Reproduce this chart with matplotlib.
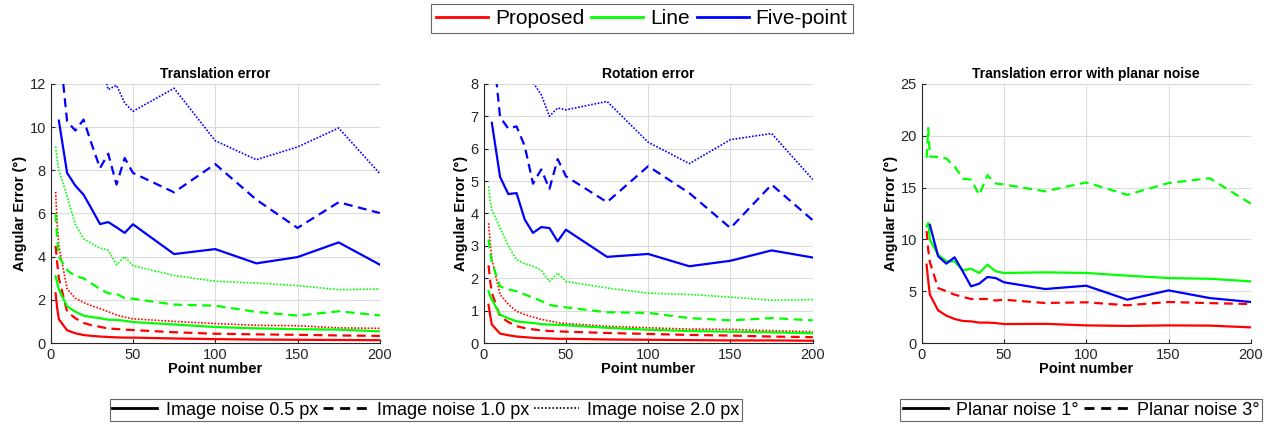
import matplotlib
matplotlib.use("Agg")
import matplotlib.pyplot as plt
from matplotlib.lines import Line2D

plt.rcParams['font.family'] = ['Liberation Sans', 'DejaVu Sans']

# point numbers
x_all = [3, 4, 5, 10, 15, 20, 25, 30, 35, 40, 45, 50, 75, 100, 125, 150, 175, 200]
x_five = [5, 10, 15, 20, 25, 30, 35, 40, 45, 50, 75, 100, 125, 150, 175, 200]

# Translation error (image noise 0.5 / 1.0 / 2.0 px)
t_prop_05 = [2.3, 1.6, 1.1, 0.59, 0.45, 0.37, 0.33, 0.3, 0.28, 0.26, 0.25, 0.25, 0.21, 0.18, 0.16, 0.15, 0.14, 0.13]
t_prop_10 = [4.5, 3.7, 3.0, 1.45, 1.15, 0.93, 0.82, 0.75, 0.67, 0.65, 0.62, 0.6, 0.5, 0.43, 0.4, 0.38, 0.35, 0.33]
t_prop_20 = [7.0, 5.5, 4.5, 2.5, 2.08, 1.88, 1.72, 1.6, 1.45, 1.3, 1.2, 1.12, 1.0, 0.9, 0.82, 0.8, 0.7, 0.68]
t_line_05 = [3.09, 2.8, 2.47, 1.7, 1.45, 1.27, 1.2, 1.15, 1.08, 1.07, 1.03, 0.97, 0.86, 0.74, 0.68, 0.64, 0.62, 0.54]
t_line_10 = [6.0, 4.8, 4.0, 3.37, 3.1, 3.0, 2.75, 2.5, 2.3, 2.28, 2.08, 2.05, 1.78, 1.73, 1.44, 1.27, 1.47, 1.28]
t_line_20 = [9.1, 8.5, 8.0, 6.8, 5.5, 4.83, 4.6, 4.4, 4.3, 3.63, 4.0, 3.58, 3.13, 2.86, 2.78, 2.66, 2.47, 2.5]
t_five_05 = [10.3, 7.88, 7.29, 6.87, 6.2, 5.51, 5.6, 5.36, 5.1, 5.5, 4.12, 4.35, 3.69, 3.98, 4.66, 3.63]
t_five_10 = [14.0, 10.27, 9.84, 10.35, 9.2, 8.1, 8.77, 7.34, 8.57, 7.88, 6.98, 8.29, 6.64, 5.33, 6.52, 6.02]
t_five_20 = [25.0, 18.0, 16.0, 15.0, 14.0, 13.1, 11.74, 11.94, 11.12, 10.73, 11.8, 9.37, 8.49, 9.08, 9.96, 7.85]

# Rotation error
r_prop_05 = [1.18, 0.85, 0.57, 0.29, 0.24, 0.2, 0.18, 0.16, 0.15, 0.14, 0.13, 0.13, 0.11, 0.1, 0.09, 0.08, 0.08, 0.07]
r_prop_10 = [2.4, 1.9, 1.55, 0.82, 0.65, 0.52, 0.46, 0.42, 0.39, 0.37, 0.36, 0.35, 0.31, 0.28, 0.25, 0.23, 0.2, 0.18]
r_prop_20 = [3.7, 3.1, 2.6, 1.5, 1.2, 0.98, 0.88, 0.8, 0.73, 0.68, 0.63, 0.6, 0.52, 0.47, 0.43, 0.42, 0.38, 0.35]
r_line_05 = [1.6, 1.45, 1.34, 0.88, 0.76, 0.67, 0.64, 0.62, 0.58, 0.57, 0.56, 0.55, 0.47, 0.41, 0.37, 0.35, 0.33, 0.3]
r_line_10 = [3.2, 2.8, 2.5, 1.75, 1.65, 1.6, 1.5, 1.4, 1.3, 1.18, 1.13, 1.1, 0.95, 0.93, 0.77, 0.7, 0.77, 0.7]
r_line_20 = [4.84, 4.4, 4.12, 3.55, 3.0, 2.57, 2.45, 2.37, 2.25, 1.9, 2.16, 1.9, 1.7, 1.54, 1.5, 1.42, 1.32, 1.34]
r_five_05 = [6.8, 5.13, 4.6, 4.63, 3.81, 3.4, 3.58, 3.55, 3.14, 3.5, 2.66, 2.75, 2.37, 2.54, 2.86, 2.64]
r_five_10 = [9.5, 6.98, 6.62, 6.69, 6.08, 4.92, 5.36, 4.76, 5.68, 5.15, 4.35, 5.46, 4.63, 3.55, 4.89, 3.79]
r_five_20 = [14.0, 11.0, 9.8, 9.0, 8.5, 8.05, 7.67, 7.0, 7.26, 7.2, 7.46, 6.2, 5.54, 6.28, 6.47, 5.05]

# Translation error with planar noise (1 / 3 deg)
p_prop_1 = [7.56, 6.0, 4.67, 3.15, 2.64, 2.32, 2.13, 2.09, 1.97, 1.97, 1.93, 1.83, 1.85, 1.7, 1.65, 1.7, 1.68, 1.51]
p_prop_3 = [10.8, 9.0, 7.8, 5.3, 5.0, 4.67, 4.45, 4.25, 4.25, 4.25, 4.1, 4.18, 3.86, 3.93, 3.64, 3.96, 3.85, 3.76]
p_line_1 = [11.26, 11.6, 9.97, 8.53, 7.88, 7.88, 7.01, 7.17, 6.76, 7.56, 6.92, 6.76, 6.82, 6.76, 6.5, 6.27, 6.2, 5.95]
p_line_3 = [17.86, 20.75, 18.0, 17.95, 17.8, 17.05, 15.86, 15.77, 14.3, 16.2, 15.4, 15.3, 14.64, 15.5, 14.3, 15.44, 15.9, 13.45]
p_five_1 = [11.4, 8.37, 7.66, 8.27, 6.9, 5.47, 5.73, 6.37, 6.27, 5.86, 5.21, 5.53, 4.18, 5.08, 4.34, 3.96]

RED, GREEN, BLUE = '#ff0000', '#00ff00', '#0000ff'
solid = dict(ls='-', lw=1.6)
dashed = dict(ls=(0, (4, 2.5)), lw=1.6)
dotted = dict(ls=(0, (1, 1)), lw=1.2)

fig = plt.figure(figsize=(12.66, 4.24), dpi=100)
W, H = 0.26, 0.611
ax1 = fig.add_axes([0.040, 0.191, W, H])
ax2 = fig.add_axes([0.382, 0.191, W, H])
ax3 = fig.add_axes([0.728, 0.191, W, H])

def style(ax, title, ymax, yticks):
    ax.set_xlim(0, 200)
    ax.set_ylim(0, ymax)
    ax.set_xticks([0, 50, 100, 150, 200])
    ax.set_yticks(yticks)
    ax.grid(True, color='#dcdcdc', lw=0.8)
    ax.set_axisbelow(True)
    ax.spines['top'].set_visible(False)
    ax.spines['right'].set_visible(False)
    for s in ('left', 'bottom'):
        ax.spines[s].set_color('#262626')
    ax.tick_params(direction='in', length=3, labelsize=10.5, colors='#262626')
    ax.set_title(title, fontsize=10, fontweight='bold', pad=4)
    ax.set_xlabel('Point number', fontsize=10.5, fontweight='bold', labelpad=0)
    ax.set_ylabel('Angular Error (°)', fontsize=10.5, fontweight='bold', labelpad=2)

# panel 1
ax1.plot(x_all, t_prop_05, color=RED, **solid)
ax1.plot(x_all, t_prop_10, color=RED, **dashed)
ax1.plot(x_all, t_prop_20, color=RED, **dotted)
ax1.plot(x_all, t_line_05, color=GREEN, **solid)
ax1.plot(x_all, t_line_10, color=GREEN, **dashed)
ax1.plot(x_all, t_line_20, color=GREEN, **dotted)
ax1.plot(x_five, t_five_05, color=BLUE, **solid)
ax1.plot(x_five, t_five_10, color=BLUE, **dashed)
ax1.plot(x_five, t_five_20, color=BLUE, **dotted)
style(ax1, 'Translation error', 12, range(0, 13, 2))

# panel 2
ax2.plot(x_all, r_prop_05, color=RED, **solid)
ax2.plot(x_all, r_prop_10, color=RED, **dashed)
ax2.plot(x_all, r_prop_20, color=RED, **dotted)
ax2.plot(x_all, r_line_05, color=GREEN, **solid)
ax2.plot(x_all, r_line_10, color=GREEN, **dashed)
ax2.plot(x_all, r_line_20, color=GREEN, **dotted)
ax2.plot(x_five, r_five_05, color=BLUE, **solid)
ax2.plot(x_five, r_five_10, color=BLUE, **dashed)
ax2.plot(x_five, r_five_20, color=BLUE, **dotted)
style(ax2, 'Rotation error', 8, range(0, 9))

# panel 3
ax3.plot(x_all, p_prop_1, color=RED, **solid)
ax3.plot(x_all, p_prop_3, color=RED, **dashed)
ax3.plot(x_all, p_line_1, color=GREEN, **solid)
ax3.plot(x_all, p_line_3, color=GREEN, **dashed)
ax3.plot(x_five, p_five_1, color=BLUE, **solid)
style(ax3, 'Translation error with planar noise', 25, range(0, 26, 5))

# legends
meth = [Line2D([], [], color=c, lw=2) for c in (RED, GREEN, BLUE)]
leg = fig.legend(meth, ['Proposed', 'Line', 'Five-point'], loc='upper center',
                 bbox_to_anchor=(0.507, 0.991), borderaxespad=0, ncol=3, fontsize=15,
                 frameon=True, fancybox=False, edgecolor='#404040', handlelength=2.5,
                 handletextpad=0.33, columnspacing=0.33, borderpad=0.25)
leg.get_frame().set_linewidth(0.8)

k = dict(color='black', lw=2)
img = [Line2D([], [], ls='-', **k), Line2D([], [], ls=(0, (3.6, 2.4)), **k),
       Line2D([], [], ls=(0, (1, 1.2)), color='black', lw=1.2)]
leg2 = fig.legend(img, ['Image noise 0.5 px', 'Image noise 1.0 px', 'Image noise 2.0 px'],
                  loc='upper center', bbox_to_anchor=(0.3365, 0.059), borderaxespad=0,
                  ncol=3, fontsize=13, frameon=True, fancybox=False, edgecolor='#404040',
                  handlelength=2.5, handletextpad=0.45, columnspacing=0.3, borderpad=0.15)
leg2.get_frame().set_linewidth(0.8)

pl = [Line2D([], [], ls='-', **k), Line2D([], [], ls=(0, (3.6, 2.4)), **k)]
leg3 = fig.legend(pl, ['Planar noise 1°', 'Planar noise 3°'],
                  loc='upper center', bbox_to_anchor=(0.854, 0.059), borderaxespad=0,
                  ncol=2, fontsize=13, frameon=True, fancybox=False, edgecolor='#404040',
                  handlelength=2.5, handletextpad=0.45, columnspacing=0.3, borderpad=0.15)
leg3.get_frame().set_linewidth(0.8)

fig.savefig('out.png', dpi=100)
